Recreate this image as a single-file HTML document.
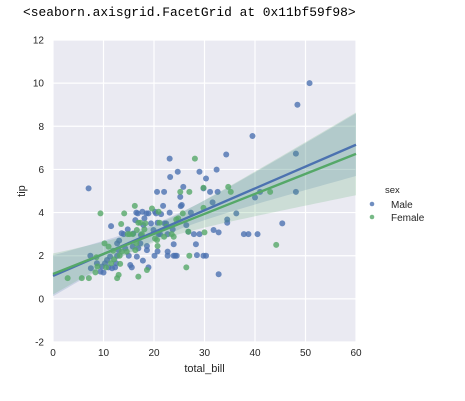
<!DOCTYPE html>
<html><head><meta charset="utf-8"><style>
body{margin:0;background:#fff;width:465px;height:401px;overflow:hidden}
svg{display:block}
text{font-family:"Liberation Sans",sans-serif;fill:#262626}
</style></head><body>
<div style="position:absolute;left:23px;top:5px;font:12.9px 'Liberation Mono',monospace;color:#000;white-space:pre">&lt;seaborn.axisgrid.FacetGrid at 0x11bf59f98&gt;</div>
<svg id="chart" width="465" height="401"></svg>
<script>
const xTicks=[0,10,20,30,40,50,60];
const yTicks=[-2,0,2,4,6,8,10,12];
const maleX=[7.4,7.5,8.7,9.7,9.4,10.0,10.3,10.7,11.5,11.3,11.0,11.7,12.3,12.5,12.7,13.0,13.1,13.6,14.0,14.3,14.8,15.0,15.3,15.6,15.8,15.9,16.3,16.5,16.8,16.6,16.9,17.3,17.4,17.7,17.9,18.1,17.8,18.5,18.6,18.6,18.9,18.9,19.4,19.9,20.1,20.2,20.4,20.6,20.7,20.7,20.9,21.2,21.4,21.8,22.0,22.1,22.4,22.7,22.7,22.7,23.1,23.1,23.2,23.7,23.9,23.9,24.2,24.5,24.7,25.2,25.3,25.5,25.8,26.4,26.8,27.3,27.9,28.3,28.5,29.0,29.0,29.8,30.3,30.3,29.8,31.1,31.6,31.8,32.4,32.6,32.8,32.8,34.3,34.5,34.5,36.3,37.8,38.7,39.5,40.0,40.5,41.0,45.4,48.1,48.1,48.4,50.8,7.05,12.7];
const maleY=[2.0,1.42,1.65,1.5,1.26,1.22,1.65,1.8,3.37,1.96,1.46,1.42,1.46,1.65,2.57,2.26,2.7,3.04,3.0,2.34,3.22,2.0,1.57,1.46,2.42,3.03,3.65,4.0,3.96,1.96,2.34,2.57,2.96,4.04,3.42,3.73,1.77,3.96,2.45,2.26,3.96,1.46,3.5,3.19,2.0,4.04,3.96,4.96,3.53,2.2,3.0,3.0,3.93,4.31,4.96,3.5,3.5,3.0,2.19,2.0,4.0,6.5,5.65,3.22,2.0,2.53,2.0,2.0,5.89,4.73,4.3,4.35,5.19,3.42,3.11,4.0,3.0,2.53,2.03,3.0,5.89,2.0,2.0,5.58,5.12,4.96,4.47,3.19,5.99,4.96,3.08,1.14,6.69,3.68,3.53,3.96,3.0,3.0,7.55,4.7,3.0,4.96,3.5,6.73,4.96,9.0,10.0,5.12,2.0];
const femaleX=[2.9,5.7,7.1,9.4,8.6,8.8,8.4,10.2,10.5,11.0,11.5,11.9,12.1,12.7,13.0,13.2,13.3,13.5,13.6,14.1,14.6,14.8,15.2,15.8,16.2,16.3,16.5,16.6,16.9,17.3,16.9,17.6,18.1,18.3,18.6,19.6,20.2,20.6,20.7,20.9,21.1,22.0,22.5,23.5,23.9,24.4,24.8,25.2,25.7,26.8,26.4,27.0,27.0,28.1,29.8,29.8,30.0,34.7,35.2,43.0,44.2];
const femaleY=[0.96,0.96,0.96,3.96,1.93,1.5,1.23,2.57,1.46,2.42,1.65,2.23,1.83,0.96,1.11,2.0,1.62,3.47,2.19,3.96,2.19,3.0,3.0,3.0,4.31,2.26,2.57,3.19,3.53,3.53,1.03,3.0,3.22,3.5,1.34,4.19,2.8,2.73,2.45,4.04,3.53,2.88,3.34,3.0,2.88,3.68,3.73,4.96,3.96,3.11,1.46,4.96,2.0,6.5,5.15,4.22,3.08,5.19,4.96,4.96,2.5];
const NS="http://www.w3.org/2000/svg";
const svg=document.getElementById('chart');
const L=53,R=356,T=40,B=342;
const sx=v=>L+(v-0)/(60-0)*(R-L);
const sy=v=>B-(v+2)/(14)*(B-T);
function mk(t,a,p){const e=document.createElementNS(NS,t);for(const k in a)e.setAttribute(k,a[k]);(p||svg).appendChild(e);return e;}
const bg=mk('rect',{x:L,y:T,width:R-L,height:B-T,fill:'#eaeaf2'});


xTicks.forEach(v=>{
 const g=mk('line',{x1:sx(v),x2:sx(v),y1:T,y2:B,stroke:'#fff','stroke-width':1.2});
 
 
 const t=mk('text',{x:sx(v),y:B+14,'font-size':10,'text-anchor':'middle'});t.textContent=v;
 
 
});
yTicks.forEach(v=>{
 const g=mk('line',{x1:L,x2:R,y1:sy(v),y2:sy(v),stroke:'#fff','stroke-width':1.2});
 
 
 const t=mk('text',{x:L-9,y:sy(v)+3.5,'font-size':10,'text-anchor':'end'});t.textContent=v;
 
 
});
function fit(xs,ys){const n=xs.length;const mx=xs.reduce((a,b)=>a+b)/n,my=ys.reduce((a,b)=>a+b)/n;let sxy=0,sxx=0;for(let i=0;i<n;i++){sxy+=(xs[i]-mx)*(ys[i]-my);sxx+=(xs[i]-mx)**2;}const b=sxy/sxx,a=my-b*mx;let sse=0;for(let i=0;i<n;i++)sse+=(ys[i]-a-b*xs[i])**2;const s=Math.sqrt(sse/(n-2));return{a,b,mx,sxx,s,n};}
function drawSeries(xs,ys,color,name){
 const f=fit(xs,ys);
 let up=[],lo=[];
 for(let x=0;x<=60;x+=1){const y=f.a+f.b*x;const hw=3.0*f.s*Math.sqrt(1/f.n+(x-f.mx)**2/f.sxx);up.push(sx(x)+','+sy(y+hw));lo.unshift(sx(x)+','+sy(y-hw));}
 const band=mk('polygon',{points:up.concat(lo).join(' '),fill:color,'fill-opacity':0.2});
 
 
 xs.forEach((x,i)=>{const c=mk('circle',{cx:sx(x),cy:sy(ys[i]),r:3,fill:color,'fill-opacity':0.8});
  
  });
 return ()=>{const ln=mk('line',{x1:sx(0),y1:sy(f.a),x2:sx(60),y2:sy(f.a+f.b*60),stroke:color,'stroke-width':2.4});
  
  };
}
const m=drawSeries(maleX,maleY,'#4c72b0','male');
const fe=drawSeries(femaleX,femaleY,'#55a868','female');
m();fe();
const xl=mk('text',{x:(L+R)/2,y:B+30,'font-size':11,'text-anchor':'middle'});xl.textContent='total_bill';


const yl=mk('text',{x:0,y:0,'font-size':11,'text-anchor':'middle',transform:'translate(25,'+((T+B)/2)+') rotate(-90)'});yl.textContent='tip';


const lt=mk('text',{x:385,y:193,'font-size':9.5});lt.textContent='sex';


[['Male','#4c72b0',204],['Female','#55a868',217]].forEach(([n,c,y])=>{
 const d=mk('circle',{cx:372,cy:y,r:2.3,fill:c,'fill-opacity':0.8});
 
 
 const t=mk('text',{x:391,y:y+4,'font-size':10});t.textContent=n;
 
 
});
</script>
</body></html>
